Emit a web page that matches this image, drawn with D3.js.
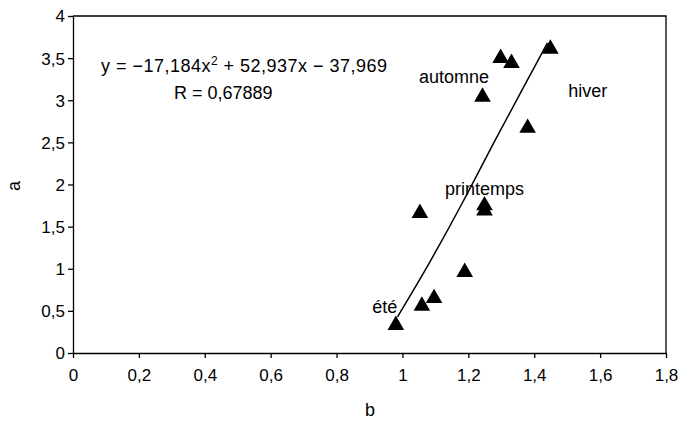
<!DOCTYPE html><html><head><meta charset="utf-8"><script src="https://cdn.jsdelivr.net/npm/d3@7"></script>
<style>body{margin:0;background:#fff}text{font-family:"Liberation Sans Narrow","Arial Narrow","Liberation Sans",Arial,sans-serif;fill:#000}</style></head><body><svg id="c" width="682" height="425"></svg><script>
const xs=[0.98,1.059,1.096,1.189,1.053,1.249,1.249,1.243,1.298,1.331,1.38,1.449];
const ys=[0.33,0.56,0.65,0.96,1.66,1.69,1.75,3.04,3.50,3.44,2.67,3.61];
const curveX=[0.985,1.08,1.18,1.28,1.36,1.44];
const curveY=[0.43,1.05,1.76,2.52,3.10,3.68];
const xTicks=[0,0.2,0.4,0.6,0.8,1,1.2,1.4,1.6,1.8];
const yTicks=[0,0.5,1,1.5,2,2.5,3,3.5,4];
const seasons=[["automne",1.05,3.2],["hiver",1.503,3.04],["printemps",1.129,1.87],["été",0.908,0.475]];
const svg=d3.select("#c");
const x=d3.scaleLinear([0,1.8],[73,666]), y=d3.scaleLinear([0,4],[353,16]);
const fmt=d=>String(d).replace(".",",");
svg.append("g").attr("transform","translate(0,353)").call(d3.axisBottom(x).tickValues(xTicks).tickFormat(fmt).tickSize(5).tickSizeOuter(0)).call(g=>g.selectAll("text").attr("font-size",17).attr("dy","1.15em"));
svg.append("g").attr("transform","translate(73,0)").call(d3.axisLeft(y).tickValues(yTicks).tickFormat(fmt).tickSize(5).tickSizeOuter(0)).call(g=>g.selectAll("text").attr("font-size",17).attr("dy","0.35em"));
svg.append("path").attr("fill","none").attr("stroke","#000").attr("stroke-width",1.3).attr("d",`M${x(0)},${y(4)}H${x(1.8)}V${y(0)}`);
svg.selectAll(".domain,.tick line").attr("stroke","#000").attr("stroke-width",1.3);
svg.append("path").datum(curveX.map((d,i)=>[d,curveY[i]])).attr("fill","none").attr("stroke","#000").attr("stroke-width",1.5).attr("d",d3.line().x(d=>x(d[0])).y(d=>y(d[1])).curve(d3.curveBasis));
svg.selectAll(".pt").data(xs).join("path").attr("transform",(d,i)=>`translate(${x(d)},${y(ys[i])})`).attr("d",d3.symbol(d3.symbolTriangle,120)).attr("fill","#000");
svg.selectAll(".s").data(seasons).join("text").attr("x",d=>x(d[1])).attr("y",d=>y(d[2])).attr("font-size",18).text(d=>d[0]);
svg.append("text").attr("x",101).attr("y",72).attr("font-size",18).attr("textLength",286).html('y = −17,184x<tspan dy="-7" font-size="12">2</tspan><tspan dy="7"> + 52,937x − 37,969</tspan>');
svg.append("text").attr("x",174).attr("y",99).attr("font-size",18).text("R = 0,67889");
svg.append("text").attr("x",370).attr("y",416).attr("font-size",18).attr("text-anchor","middle").text("b");
svg.append("text").attr("transform","translate(20,186) rotate(-90)").attr("font-size",18).attr("text-anchor","middle").text("a");
</script></body></html>
